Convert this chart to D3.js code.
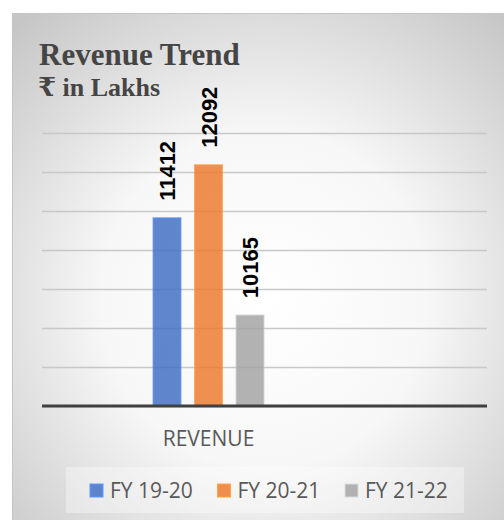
<!DOCTYPE html>
<html>
<head>
<meta charset="utf-8">
<script src="https://cdn.jsdelivr.net/npm/d3@7"></script>
<style>
  html, body { margin: 0; padding: 0; background: #fff; }
  svg { display: block; }
</style>
</head>
<body>
<div id="chart"></div>
<script>
// data
const categories = ["REVENUE"];
const seriesNames = ["FY 19-20", "FY 20-21", "FY 21-22"];
const seriesValues = [11412, 12092, 10165];
const seriesColors = ["#4472c4", "#ed7d31", "#a5a5a5"];
const yTicks = [9000, 9500, 10000, 10500, 11000, 11500, 12000, 12500];

const width = 504, height = 520;
const plotLeft = 42, plotRight = 487, plotTop = 133, plotBottom = 406;

const svg = d3.select("#chart").append("svg")
  .attr("width", width)
  .attr("height", height);

const defs = svg.append("defs");
const grad = defs.append("radialGradient")
  .attr("id", "bg")
  .attr("cx", "50%").attr("cy", "55%").attr("r", "72%");
grad.append("stop").attr("offset", "0%").attr("stop-color", "#ffffff");
grad.append("stop").attr("offset", "45%").attr("stop-color", "#f7f7f7");
grad.append("stop").attr("offset", "100%").attr("stop-color", "#c6c6c6");

// chart frame
svg.append("rect")
  .attr("x", 12.5).attr("y", 13.5)
  .attr("width", width).attr("height", height)
  .attr("fill", "url(#bg)")
  .attr("stroke", "#c4c4c4")
  .attr("stroke-width", 1);

// titles
svg.append("text")
  .attr("x", 39).attr("y", 65)
  .attr("font-family", "'Liberation Serif', 'Times New Roman', serif")
  .attr("font-weight", "bold")
  .attr("font-size", 31)
  .attr("fill", "#454545")
  .text("Revenue Trend");

svg.append("text")
  .attr("x", 38).attr("y", 96)
  .attr("font-family", "'Liberation Serif', 'DejaVu Serif', serif")
  .attr("font-weight", "bold")
  .attr("font-size", 26)
  .attr("fill", "#454545")
  .text("₹ in Lakhs");

// scales
const y = d3.scaleLinear()
  .domain([yTicks[0], yTicks[yTicks.length - 1]])
  .range([plotBottom, plotTop]);

const x0 = d3.scaleBand()
  .domain(categories)
  .range([plotLeft, 375]);

const groupW = 124.5;
const x1 = d3.scaleBand()
  .domain(seriesNames)
  .range([-groupW / 2, groupW / 2])
  .paddingInner(0.33)
  .paddingOuter(0.165);

// gridlines
const grid = svg.append("g")
  .attr("transform", `translate(${plotLeft},0)`)
  .call(d3.axisLeft(y).tickValues(yTicks).tickSize(-(plotRight - plotLeft)).tickFormat(""));
grid.select(".domain").remove();
grid.selectAll(".tick line")
  .attr("stroke", "#c8c8c8")
  .attr("stroke-width", 1.3);

// bars
const data = seriesNames.map((s, i) => ({ name: s, value: seriesValues[i], color: seriesColors[i] }));

const group = svg.append("g")
  .attr("transform", `translate(${x0(categories[0]) + x0.bandwidth() / 2},0)`);

group.selectAll("rect")
  .data(data)
  .enter()
  .append("rect")
  .attr("x", d => x1(d.name))
  .attr("y", d => y(d.value))
  .attr("width", x1.bandwidth())
  .attr("height", d => plotBottom - y(d.value))
  .attr("fill", d => d.color)
  .attr("fill-opacity", 0.85)
  .attr("stroke", d => d3.color(d.color).brighter(0.6))
  .attr("stroke-opacity", 0.7)
  .attr("stroke-width", 1.2);

// value labels, rotated
group.selectAll(".lbl")
  .data(data)
  .enter()
  .append("text")
  .attr("class", "lbl")
  .attr("transform", d => `translate(${x1(d.name) + x1.bandwidth() / 2 + 8},${y(d.value) - 17}) rotate(-90)`)
  .attr("font-family", "'Liberation Sans', Arial, sans-serif")
  .attr("font-weight", "bold")
  .attr("font-size", 22)
  .attr("fill", "#000")
  .text(d => d.value);

// category axis line
svg.append("line")
  .attr("x1", plotLeft).attr("x2", plotRight)
  .attr("y1", y(yTicks[0])).attr("y2", y(yTicks[0]))
  .attr("stroke", "#404040")
  .attr("stroke-width", 3);

svg.append("text")
  .attr("x", x0(categories[0]) + x0.bandwidth() / 2)
  .attr("y", 446)
  .attr("text-anchor", "middle")
  .attr("font-family", "'Open Sans', sans-serif")
  .attr("font-size", 21)
  .attr("fill", "#595959")
  .text(categories[0]);

// legend
svg.append("rect")
  .attr("x", 66).attr("y", 467)
  .attr("width", 398).attr("height", 46)
  .attr("fill", "#ffffff")
  .attr("fill-opacity", 0.35);

const lx = d3.scaleBand()
  .domain(seriesNames)
  .range([90, 90 + 3 * 127.5]);

const item = svg.selectAll(".leg")
  .data(data)
  .enter()
  .append("g")
  .attr("class", "leg")
  .attr("transform", d => `translate(${lx(d.name)},0)`);

item.append("rect")
  .attr("x", 0).attr("y", 484)
  .attr("width", 13).attr("height", 13)
  .attr("fill", d => d.color)
  .attr("fill-opacity", 0.85)
  .attr("stroke", d => d3.color(d.color).brighter(0.8))
  .attr("stroke-width", 1);

item.append("text")
  .attr("x", 20).attr("y", 498)
  .attr("font-family", "'Open Sans', sans-serif")
  .attr("font-size", 21)
  .attr("fill", "#595959")
  .text(d => d.name);
</script>
</body>
</html>
